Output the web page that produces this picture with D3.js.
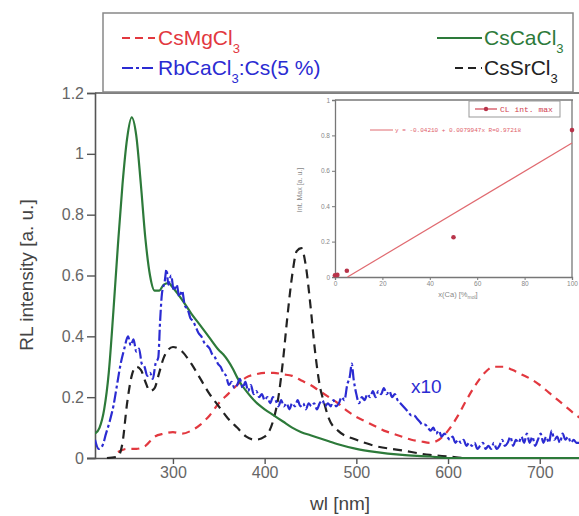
<!DOCTYPE html>
<html>
<head>
<meta charset="utf-8">
<script src="https://cdn.jsdelivr.net/npm/d3@7"></script>
<style>
body{margin:0;background:#fff;}
svg{font-family:"Liberation Sans",Arial,sans-serif;}
</style>
</head>
<body>
<div id="chart"></div>
<script>
// main spectra, RL intensity vs wavelength (nm)
var mgWl  = [240,250,260,270,280,290,300,310,320,330,340,350,360,370,380,390,400,410,420,430,440,450,460,470,480,490,500,510,520,530,540,550,560,570,580,590,600,610,620,630,640,650,660,670,680,690,700,710,720,730,740,745];
var mgVal = [0.02,0.03,0.03,0.04,0.07,0.08,0.085,0.08,0.09,0.11,0.14,0.18,0.21,0.24,0.265,0.275,0.28,0.28,0.275,0.27,0.255,0.24,0.22,0.2,0.18,0.155,0.135,0.12,0.105,0.09,0.08,0.07,0.06,0.055,0.05,0.06,0.09,0.135,0.19,0.24,0.28,0.3,0.3,0.29,0.275,0.26,0.24,0.215,0.19,0.165,0.14,0.13];

var caWl  = [215,220,225,230,235,240,245,250,255,260,265,270,275,280,285,290,295,300,310,320,330,340,350,355,360,365,370,375,380,390,400,410,420,430,440,450,460,470,480,500,520,550,580,600,745];
var caVal = [0.08,0.1,0.16,0.28,0.48,0.7,0.9,1.05,1.12,1.06,0.9,0.72,0.6,0.55,0.55,0.57,0.575,0.56,0.52,0.475,0.435,0.395,0.355,0.34,0.32,0.295,0.265,0.24,0.22,0.185,0.16,0.14,0.12,0.1,0.085,0.075,0.065,0.055,0.045,0.03,0.02,0.01,0.005,0,0];

var srWl  = [228,240,245,250,255,260,265,270,275,280,285,290,300,310,320,330,340,350,360,370,380,390,400,410,415,420,425,430,435,440,445,450,455,460,465,470,480,500,520,550,580,600,620,745];
var srVal = [0,0.005,0.05,0.18,0.27,0.3,0.29,0.25,0.22,0.23,0.28,0.33,0.365,0.35,0.31,0.26,0.21,0.17,0.13,0.1,0.07,0.06,0.07,0.13,0.2,0.32,0.47,0.6,0.68,0.69,0.63,0.5,0.35,0.24,0.18,0.13,0.09,0.06,0.04,0.025,0.01,0.005,0,0];

var rbWl  = [215,219,223,227,231,235,239,243,247,251,254,257,260,263,266,269,272,275,278,281,284,286,288,291,293,295,298,301,304,307,310,313,316,319,322,325,328,331,334,337,340,343,346,349,352,355,358,361,364,367,370,373,376,379,382,385,388,391,394,397,400,403,406,409,412,415,418,421,424,427,430,433,436,439,442,445,448,451,454,457,460,463,466,469,472,475,478,481,484,487,490,493,495,497,500,503,506,509,512,515,518,521,524,527,530,533,536,539,542,545,548,551,554,557,560,563,566,569,572,575,578,581,584,587,590,593,596,599,602,605,608,611,614,617,620,623,626,629,632,635,638,641,644,647,650,653,656,659,662,665,668,671,674,677,680,683,686,689,692,695,698,701,704,707,710,713,716,719,722,725,728,731,734,737,740,745];
var rbVal = [0.06,0.03,0.04,0.08,0.12,0.17,0.24,0.31,0.36,0.4,0.37,0.39,0.35,0.36,0.31,0.3,0.27,0.28,0.26,0.31,0.33,0.45,0.54,0.58,0.62,0.57,0.6,0.55,0.57,0.53,0.55,0.5,0.49,0.46,0.45,0.43,0.41,0.4,0.38,0.37,0.36,0.34,0.33,0.31,0.3,0.28,0.27,0.24,0.25,0.23,0.24,0.26,0.23,0.25,0.22,0.24,0.21,0.22,0.2,0.21,0.19,0.2,0.18,0.2,0.19,0.17,0.19,0.17,0.18,0.16,0.18,0.17,0.19,0.17,0.18,0.16,0.18,0.17,0.18,0.16,0.18,0.19,0.17,0.18,0.17,0.19,0.17,0.18,0.2,0.19,0.24,0.27,0.31,0.26,0.21,0.18,0.2,0.19,0.21,0.2,0.22,0.2,0.22,0.21,0.23,0.21,0.22,0.2,0.21,0.19,0.18,0.17,0.16,0.15,0.14,0.14,0.13,0.12,0.11,0.11,0.1,0.09,0.1,0.08,0.09,0.07,0.08,0.07,0.06,0.07,0.05,0.06,0.05,0.06,0.04,0.05,0.04,0.05,0.03,0.04,0.05,0.03,0.04,0.03,0.05,0.03,0.04,0.06,0.04,0.05,0.07,0.04,0.06,0.05,0.07,0.05,0.08,0.05,0.07,0.04,0.06,0.08,0.05,0.07,0.05,0.09,0.06,0.07,0.05,0.08,0.06,0.07,0.05,0.06,0.05,0.05];

var xTicks = [300,400,500,600,700];
var yTicks = [0,0.2,0.4,0.6,0.8,1,1.2];

// inset: max intensity vs Ca content
var insX = [0,1,5,50,100];
var insY = [0.01,0.012,0.035,0.225,0.83];
var fitA = -0.0421, fitB = 0.00799;
var insXTicks = [0,20,40,60,80,100];
var insYTicks = [0,0.2,0.4,0.6,0.8,1];

var colRed = "#e2383f", colBlue = "#2b2bd2", colGreen = "#2d7a3a", colBlack = "#222";

var W = 579, H = 516;
var svg = d3.select("#chart").append("svg").attr("width", W).attr("height", H);

var x = d3.scaleLinear().domain([215, 745]).range([95, 581]);
var y = d3.scaleLinear().domain([0, 1.2]).range([458, 93]);

svg.append("clipPath").attr("id","clip")
	.append("rect").attr("x",95).attr("y",93).attr("width",490).attr("height",366);

function drawSeries(wl, vals, color, dash, width){
	var pts = wl.map(function(w,i){ return [w, vals[i]]; });
	var line = d3.line().x(function(d){ return x(d[0]); }).y(function(d){ return y(d[1]); }).curve(d3.curveMonotoneX);
	svg.append("path")
		.attr("clip-path","url(#clip)")
		.attr("d", line(pts))
		.attr("fill","none")
		.attr("stroke", color)
		.attr("stroke-width", width)
		.attr("stroke-dasharray", dash);
}

// axes
var yAxis = d3.axisLeft(y).tickValues(yTicks).tickSize(8).tickFormat(function(d){ return d==0||d==1 ? d3.format("d")(d) : d3.format(".1f")(d); });
var gy = svg.append("g").attr("transform","translate(95,0)").call(yAxis);
var xAxis = d3.axisBottom(x).tickValues(xTicks).tickSize(6);
var gx = svg.append("g").attr("transform","translate(0,458)").call(xAxis);
[gx, gy].forEach(function(g){
	g.select(".domain").attr("stroke","#555").attr("stroke-width",1.6);
	g.selectAll(".tick line").attr("stroke","#555").attr("stroke-width",1.4);
	g.selectAll(".tick text").attr("fill","#666").attr("font-size",16).attr("font-family","Liberation Sans, Arial, sans-serif");
});
gx.select(".domain").attr("d","M87,0.5H581");
svg.append("line").attr("x1",95).attr("x2",581).attr("y1",93).attr("y2",93).attr("stroke","#555").attr("stroke-width",1.6);

svg.append("text").attr("transform","translate(33,275) rotate(-90)").attr("text-anchor","middle")
	.attr("font-size",19).attr("fill","#444").text("RL intensity [a. u.]");
svg.append("text").attr("x",340).attr("y",510).attr("text-anchor","middle")
	.attr("font-size",19).attr("fill","#444").text("wl [nm]");

// spectra
drawSeries(mgWl, mgVal, colRed, "8,6", 2.2);
drawSeries(srWl, srVal, colBlack, "9,6", 2.2);
drawSeries(caWl, caVal, colGreen, null, 2.2);
drawSeries(rbWl, rbVal, colBlue, "11,3,3,3", 2.2);

svg.append("text").attr("x",411).attr("y",393).attr("font-size",19).attr("fill",colBlue).text("x10");

// legend
svg.append("rect").attr("x",103).attr("y",13).attr("width",470).attr("height",79)
	.attr("fill","#fff").attr("stroke","#888").attr("stroke-width",1.5);
var legendItems = [
	{name:"CsMgCl", sub:"3", tail:"", color:colRed, dash:"8,5", lx:[122,155], tx:158, ty:45},
	{name:"RbCaCl", sub:"3", tail:":Cs(5 %)", color:colBlue, dash:"11,3,3,3", lx:[122,155], tx:158, ty:75},
	{name:"CsCaCl", sub:"3", tail:"", color:colGreen, dash:null, lx:[437,482], tx:484, ty:45},
	{name:"CsSrCl", sub:"3", tail:"", color:colBlack, dash:"8,5", lx:[455,482], tx:484, ty:75}
];
legendItems.forEach(function(d){
	svg.append("line").attr("x1",d.lx[0]).attr("x2",d.lx[1]).attr("y1",d.ty-7).attr("y2",d.ty-7)
		.attr("stroke",d.color).attr("stroke-width",2.2).attr("stroke-dasharray",d.dash);
	var t = svg.append("text").attr("x",d.tx).attr("y",d.ty).attr("font-size",21).attr("fill",d.color);
	t.append("tspan").text(d.name);
	t.append("tspan").attr("dy",8).attr("font-size",13).text(d.sub);
	if(d.tail) t.append("tspan").attr("dy",-8).text(d.tail);
});

// inset
var ix = d3.scaleLinear().domain([0,100]).range([335,572]);
var iy = d3.scaleLinear().domain([0,1]).range([277,100]);
var iyAxis = d3.axisLeft(iy).tickValues(insYTicks).tickSize(3).tickPadding(2).tickFormat(function(d){ return d==0||d==1 ? d : d3.format(".1f")(d); });
var ixAxis = d3.axisBottom(ix).tickValues(insXTicks).tickSize(3).tickPadding(1);
var giy = svg.append("g").attr("transform","translate(335,0)").call(iyAxis);
var gix = svg.append("g").attr("transform","translate(0,277)").call(ixAxis);
[gix, giy].forEach(function(g){
	g.select(".domain").attr("stroke","#777").attr("stroke-width",1.3);
	g.selectAll(".tick line").attr("stroke","#777");
	g.selectAll(".tick text").attr("fill","#888").attr("font-size",6.5);
});
svg.append("line").attr("x1",335).attr("x2",573).attr("y1",100).attr("y2",100).attr("stroke","#777").attr("stroke-width",1.3);
svg.append("line").attr("x1",572).attr("x2",572).attr("y1",100).attr("y2",277).attr("stroke","#777").attr("stroke-width",1.3);

var x0 = -fitA / fitB;
svg.append("line").attr("x1",ix(x0)).attr("y1",iy(0)).attr("x2",ix(100)).attr("y2",iy(fitA+fitB*100))
	.attr("stroke","#e06a70").attr("stroke-width",1.2);
svg.selectAll(".ipt").data(insX).enter().append("circle").attr("class","ipt")
	.attr("cx",function(d){ return ix(d); })
	.attr("cy",function(d,i){ return iy(insY[i]); })
	.attr("r",2.3).attr("fill","#b8344a");

svg.append("text").attr("transform","translate(302,190) rotate(-90)").attr("text-anchor","middle")
	.attr("font-size",7).attr("fill","#888").text("Int. Max [a. u.]");
var xl = svg.append("text").attr("x",458).attr("y",297).attr("text-anchor","middle").attr("font-size",7.5).attr("fill","#888");
xl.append("tspan").text("x(Ca) [%");
xl.append("tspan").attr("dy",2).attr("font-size",5).text("mol");
xl.append("tspan").attr("dy",-2).text("]");

svg.append("rect").attr("x",469).attr("y",101).attr("width",91).attr("height",16)
	.attr("fill","#fff").attr("stroke","#999").attr("stroke-width",1);
svg.append("line").attr("x1",475).attr("x2",497).attr("y1",109).attr("y2",109).attr("stroke","#d04050").attr("stroke-width",1.2);
svg.append("circle").attr("cx",486).attr("cy",109).attr("r",2.2).attr("fill","#b8344a");
svg.append("text").attr("x",500).attr("y",112).attr("font-size",8).attr("font-family","Liberation Mono, monospace")
	.attr("fill","#d04050").text("CL int. max");
svg.append("line").attr("x1",370).attr("x2",393).attr("y1",130).attr("y2",130).attr("stroke","#e06a70").attr("stroke-width",1);
svg.append("text").attr("x",395).attr("y",132).attr("font-size",6).attr("font-family","Liberation Mono, monospace")
	.attr("fill","#e0606a").text("y = -0.04210 + 0.0079947x  R=0.97218");
</script>
</body>
</html>
